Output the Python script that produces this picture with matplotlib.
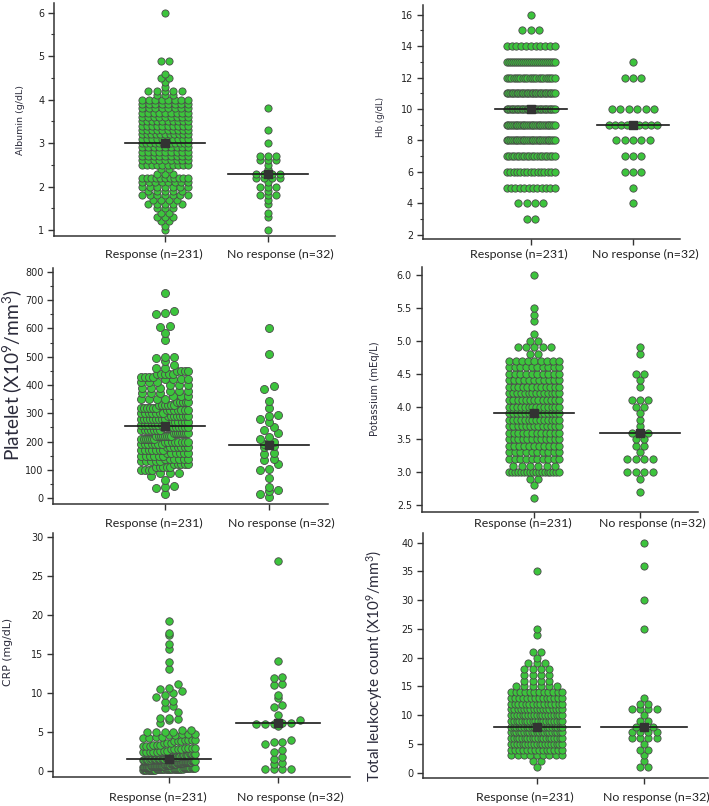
import numpy as np
import matplotlib
matplotlib.use("Agg")
import matplotlib.pyplot as plt
from matplotlib.ticker import MultipleLocator, NullLocator, FormatStrFormatter

plt.rcParams['mathtext.fontset'] = 'custom'
plt.rcParams['mathtext.rm'] = 'Lato'
plt.rcParams['mathtext.it'] = 'Lato:italic'

# ---------------- data ----------------
groups = ["Response (n=231)", "No response (n=32)"]

alb_resp_vals = [6.0, 4.9, 4.6, 4.5, 4.4, 4.3, 4.2, 4.1, 4.0, 3.9, 3.8, 3.7, 3.6, 3.5, 3.4, 3.3, 3.2, 3.1,
                 3.0, 2.9, 2.8, 2.7, 2.6, 2.5, 2.4, 2.3, 2.2, 2.1, 2.0, 1.9, 1.8, 1.7, 1.6, 1.5, 1.4, 1.3,
                 1.2, 1.1, 1.0]
alb_resp_counts = [1, 2, 1, 2, 1, 1, 5, 3, 8, 8, 8, 9, 9, 10, 10, 10, 11, 10,
                   12, 9, 9, 9, 9, 10, 2, 3, 11, 8, 7, 5, 7, 4, 5, 3, 2, 3,
                   2, 1, 1]
alb_nr_vals = [3.8, 3.3, 3.0, 2.7, 2.6, 2.5, 2.4, 2.3, 2.2, 2.1, 2.0, 1.9, 1.8, 1.7, 1.6, 1.4, 1.3, 1.0]
alb_nr_counts = [1, 1, 1, 3, 3, 1, 1, 4, 4, 1, 3, 1, 3, 1, 1, 1, 1, 1]

hb_resp_vals = [16, 15, 14, 13, 12, 11, 10, 9, 8, 7, 6, 5, 4, 3]
hb_resp_counts = [1, 3, 11, 25, 22, 30, 30, 28, 28, 20, 15, 12, 4, 2]
hb_nr_vals = [13, 12, 10, 9, 8, 7, 6, 5, 4]
hb_nr_counts = [1, 3, 6, 9, 5, 3, 3, 1, 1]

plt_resp_vals = [725, 660, 655, 650, 610, 605, 585, 560, 500, 495, 485, 470,
                 460, 450, 440, 430, 420, 410, 400, 390, 380, 370, 360, 350, 340, 330, 320, 310,
                 300, 290, 280, 270, 260, 250, 240, 230, 220, 210, 200, 190, 180, 170, 160, 150,
                 140, 130, 120, 110, 100, 90, 80, 65, 45, 40, 35, 15]
plt_resp_counts = [1, 1, 1, 1, 1, 1, 1, 1, 2, 1, 1, 1,
                   2, 4, 5, 4, 4, 3, 3, 3, 3, 3, 3, 4, 5, 6, 6, 7,
                   7, 8, 9, 7, 8, 9, 7, 8, 8, 7, 8, 7, 7, 7, 6, 6,
                   6, 5, 5, 5, 4, 3, 1, 1, 1, 1, 1, 1]
plt_nr_vals = [603, 510, 398, 387, 345, 320, 295, 290, 280, 270, 250, 240, 230, 215, 210, 200,
               190, 185, 180, 160, 155, 140, 135, 120, 105, 100, 70, 40, 30, 25, 15, 5]
plt_nr_counts = [1] * 32

pot_resp_vals = [6.0, 5.5, 5.4, 5.3, 5.1, 5.0, 4.9, 4.8, 4.7, 4.6, 4.5, 4.4, 4.3, 4.2, 4.1, 4.0, 3.9,
                 3.8, 3.7, 3.6, 3.5, 3.4, 3.3, 3.2, 3.1, 3.0, 2.9, 2.8, 2.6]
pot_resp_counts = [1, 1, 1, 1, 1, 2, 5, 2, 9, 10, 10, 11, 12, 14, 13, 14, 14,
                   14, 13, 12, 12, 11, 10, 10, 6, 18, 2, 1, 1]
pot_nr_vals = [4.9, 4.8, 4.5, 4.4, 4.3, 4.1, 4.0, 3.9, 3.8, 3.7, 3.6, 3.5, 3.4, 3.3, 3.2, 3.0, 2.9, 2.7]
pot_nr_counts = [1, 1, 2, 1, 1, 3, 2, 1, 1, 1, 3, 2, 2, 1, 4, 4, 1, 1]

crp_resp_vals = [19.3, 17.7, 17.4, 16.3, 15.7, 14.0, 13.1, 11.2, 10.7, 10.5, 10.3, 10.0, 9.8, 9.5,
                 9.0, 8.9, 8.4, 8.1, 7.6, 6.8, 6.7, 6.5, 6.2,
                 5.2, 5.0, 4.8, 4.6, 4.4, 4.2, 4.0, 3.8, 3.6, 3.4, 3.2, 3.0, 2.8, 2.6, 2.4, 2.2, 2.0,
                 1.9, 1.8, 1.7, 1.6, 1.5, 1.4, 1.3, 1.2, 1.1, 1.0, 0.9, 0.8, 0.7, 0.6, 0.5, 0.4,
                 0.3, 0.2, 0.1]
crp_resp_counts = [1, 1, 1, 1, 1, 1, 1, 1, 1, 1, 1, 1, 1, 1,
                   1, 1, 1, 1, 1, 2, 1, 1, 1,
                   2, 4, 3, 2, 2, 2, 4, 3, 3, 3, 3, 4, 4, 3, 5, 5, 5,
                   3, 6, 4, 6, 5, 6, 5, 7, 5, 9, 8, 9, 9, 10, 11, 11,
                   12, 12, 12]
crp_nr_vals = [27.0, 14.1, 12.1, 11.9, 11.2, 11.1, 9.8, 9.4, 8.5, 8.2, 7.2, 6.6, 6.2, 6.1, 6.0, 6.0,
               6.0, 5.8, 4.0, 3.7, 3.7, 3.5, 2.7, 2.4, 1.8, 1.6, 1.0, 0.9, 0.3, 0.3, 0.3, 0.2]
crp_nr_counts = [1] * 32

wbc_resp_vals = [35, 25, 24, 21, 20, 19, 18, 17, 16, 15, 14, 13, 12, 11, 10, 9, 8, 7, 6, 5, 4, 3, 2, 1]
wbc_resp_counts = [1, 1, 1, 2, 1, 3, 4, 4, 4, 6, 12, 14, 15, 17, 19, 20, 21, 21, 20, 19, 14, 9, 2, 1]
wbc_nr_vals = [40, 36, 30, 25, 13, 12, 11, 10, 9, 8, 7, 6, 5, 4, 3, 2, 1]
wbc_nr_counts = [1, 1, 1, 1, 1, 2, 4, 1, 2, 3, 4, 4, 1, 2, 1, 1, 2]

medians_alb = [3.0, 2.3]
medians_hb = [10, 9]
medians_plt = [255, 187]
medians_pot = [3.9, 3.6]
medians_crp = [1.5, 6.1]
medians_wbc = [8, 8]

# ---------------- drawing ----------------
W, H = 709, 806
fig = plt.figure(figsize=(W / 100, H / 100), dpi=100)
renderer = fig.canvas.get_renderer()

GREEN = '#3cc43c'
EDGE = '#4a4a4a'
TXT = '#222222'


def fit_size(text, family, target_px, ref=10.0):
    t = fig.text(0, 0, text, fontsize=ref, fontfamily=family)
    w = t.get_window_extent(renderer).width
    t.remove()
    return ref * target_px / w


XLAB_FS = fit_size(groups[0], 'Lato', 98)


def swarm(vals, binsize, d, wmax, gap=1.15):
    vals = np.sort(np.asarray(vals, float))
    keys = np.round(vals / binsize + 1e-9).astype(int)
    x = np.zeros(len(vals))
    for k in np.unique(keys):
        idx = np.where(keys == k)[0]
        n = len(idx)
        if n < 2:
            continue
        s = min(d * gap, wmax / (n - 1))
        x[idx] = (np.arange(n) - (n - 1) / 2) * s
    return vals, x


def panel(rect, ycal, cats, data, medians, binsize, dpx, ylabel, ylab_xy, ylab_len,
          ylab_font, major, minor=None, wmax=48, half=40, ticklabfmt=None, xlab_y=None):
    l, t, r, b = rect
    ax = fig.add_axes([l / W, 1 - b / H, (r - l) / W, (b - t) / H])
    (v1, p1), (v2, p2) = ycal
    ppu = (p2 - p1) / (v1 - v2)
    ax.set_ylim(v2 - (b - p2) / ppu, v1 + (p1 - t) / ppu)
    ax.set_xlim(l, r)
    msize = (dpx * 0.72) ** 2
    for cx, (vals, counts), med in zip(cats, data, medians):
        allv = np.repeat(vals, counts)
        yv, xo = swarm(allv, binsize, dpx, wmax)
        ax.scatter(cx + xo, yv, s=msize, c=GREEN, edgecolors=EDGE, linewidths=0.6,
                   zorder=3, clip_on=False)
        ax.plot([cx - half, cx + half], [med, med], color='#1a1a1a', lw=1.2, zorder=4)
        ax.scatter([cx], [med], marker='s', s=30, color='#333333', zorder=5)
    for s in ['top', 'right']:
        ax.spines[s].set_visible(False)
    for s in ['left', 'bottom']:
        ax.spines[s].set_linewidth(1.1)
        ax.spines[s].set_color('#333333')
    ax.set_xticks(cats)
    ax.set_xticklabels(['', ''])
    ax.tick_params(axis='x', length=4, width=1, colors='#333333')
    ly = xlab_y if xlab_y is not None else b + 18
    for cx, lab, off in zip(cats, groups, (-11.5, 12)):
        fig.text((cx + off) / W, 1 - ly / H, lab, ha='center', va='center',
                 fontsize=XLAB_FS, fontfamily='Lato', color=TXT)
    ax.yaxis.set_major_locator(MultipleLocator(major))
    if minor:
        ax.yaxis.set_minor_locator(MultipleLocator(minor))
    else:
        ax.yaxis.set_minor_locator(NullLocator())
    ax.tick_params(axis='y', which='major', length=4, width=1, pad=3, labelsize=6.9,
                   colors='#333333', labelcolor=TXT)
    ax.tick_params(axis='y', which='minor', length=2, width=0.8, colors='#333333')
    if ticklabfmt:
        ax.yaxis.set_major_formatter(ticklabfmt)
    for lab in ax.get_yticklabels():
        lab.set_fontfamily('DejaVu Sans')
    fs = fit_size(ylabel, ylab_font, ylab_len)
    fig.text(ylab_xy[0] / W, 1 - ylab_xy[1] / H, ylabel, rotation=90, ha='center', va='center',
             fontsize=fs, fontfamily=ylab_font, color='#2b2b3b')
    return ax


panel((54, 3, 335, 236), ((6, 12.7), (1, 230)), (165, 268),
      [(alb_resp_vals, alb_resp_counts), (alb_nr_vals, alb_nr_counts)], medians_alb,
      0.1, 7.2, 'Albumin (g/dL)', (20.7, 120), 70, 'DejaVu Sans', 1, 0.5, wmax=46,
      xlab_y=254)

panel((422.7, 5, 680, 239), ((16, 14.7), (2, 234.7)), (530.7, 633),
      [(hb_resp_vals, hb_resp_counts), (hb_nr_vals, hb_nr_counts)], medians_hb,
      1, 7.3, 'Hb (g/dL)', (380, 117), 40, 'DejaVu Sans', 2, 1, wmax=48, half=36,
      xlab_y=254)

panel((53.3, 268, 328, 504), ((800, 271.7), (0, 498.3)), (165, 269),
      [(plt_resp_vals, plt_resp_counts), (plt_nr_vals, plt_nr_counts)], medians_plt,
      22, 8.0, r'Platelet (X10$^{9}$/mm$^{3}$)', (12, 375), 172, 'Lato', 100, 50, wmax=47,
      xlab_y=523)

panel((421.7, 267, 698, 511.7), ((6.0, 275.3), (2.5, 505)), (534.3, 640),
      [(pot_resp_vals, pot_resp_counts), (pot_nr_vals, pot_nr_counts)], medians_pot,
      0.1, 7.3, 'Potassium (mEq/L)', (375, 389), 95, 'DejaVu Sans', 0.5, None, wmax=50,
      ticklabfmt=FormatStrFormatter('%.1f'), xlab_y=523)

panel((53.3, 533, 350, 777), ((30, 537.3), (0, 771)), (169, 278),
      [(crp_resp_vals, crp_resp_counts), (crp_nr_vals, crp_nr_counts)], medians_crp,
      0.9, 7.5, 'CRP (mg/dL)', (8.3, 652), 68, 'DejaVu Sans', 5, None, wmax=52, half=42,
      xlab_y=797)

panel((423.3, 533, 708, 778.3), ((40, 542.7), (0, 772.7)), (536.7, 644.3),
      [(wbc_resp_vals, wbc_resp_counts), (wbc_nr_vals, wbc_nr_counts)], medians_wbc,
      1, 7.2, r'Total leukocyte count (X10$^{9}$/mm$^{3}$)', (375, 666), 232, 'Lato', 5, None,
      wmax=51, half=43, xlab_y=797)

fig.savefig('out.png', dpi=100)
